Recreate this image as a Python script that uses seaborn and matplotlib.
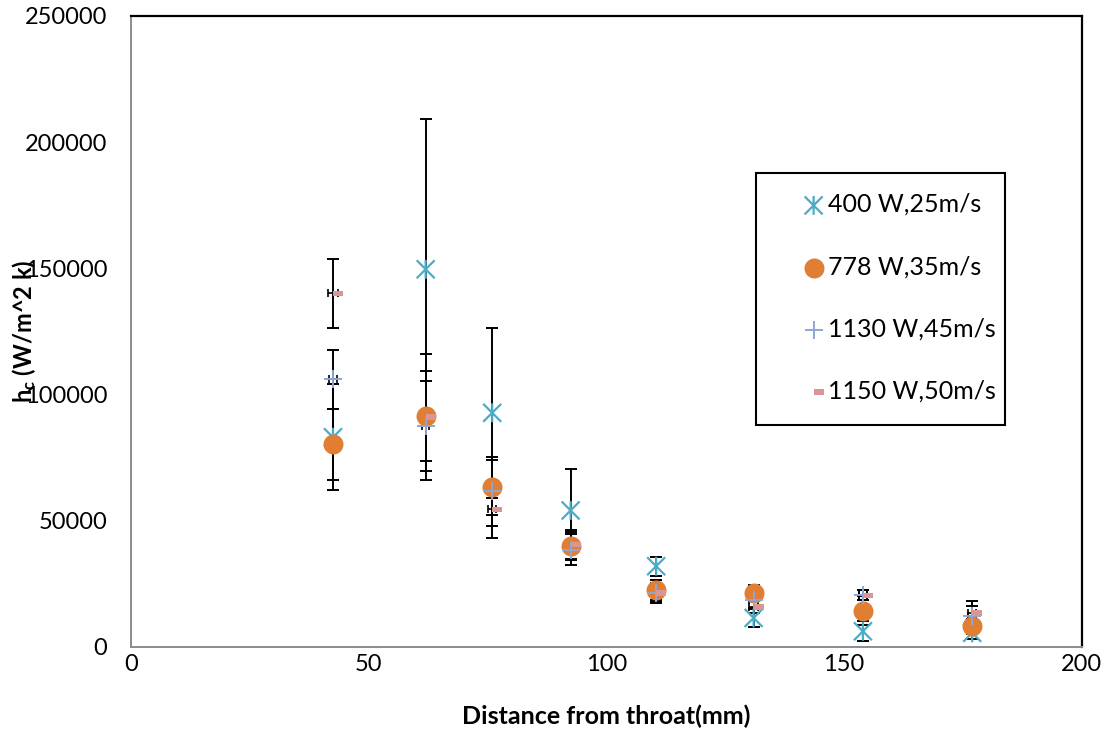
import numpy as np
import pandas as pd
import matplotlib
matplotlib.use("Agg")
import matplotlib.pyplot as plt
import seaborn as sns
from matplotlib.path import Path
from matplotlib.markers import MarkerStyle
from matplotlib.patches import Rectangle

# ---------------- data ----------------
distance_mm = [42.5, 62, 76, 92.5, 110.5, 131, 154, 177]
series_labels = ["400 W,25m/s", "778 W,35m/s", "1130 W,45m/s", "1150 W,50m/s"]

hc_400 = [83000, 149600, 92700, 54000, 31900, 11400, 6100, 5500]
err_400 = [21000, 59500, 33800, 16600, 3700, 3700, 4000, 2500]

hc_778 = [80200, 91400, 63200, 39800, 22600, 21300, 14300, 8100]
err_778 = [14000, 17900, 10900, 5500, 4000, 3000, 5600, 3000]

hc_1130 = [106000, 87400, 61600, 38500, 21300, 18400, 20600, 12000]
err_1130 = [11600, 17900, 13600, 6300, 3500, 3000, 2000, 6000]
xerr_1130 = [0.9, 0.8, 0.9, 0.9, 0.9, 0.9, 0.9, 0.9]

hc_1150 = [140000, 91000, 54400, 40500, 21300, 15700, 20400, 13400]
err_1150 = [13700, 25000, 11300, 5700, 4000, 2500, 2000, 2600]
xerr_1150 = [1.1, 0.9, 0.9, 0.9, 0.9, 0.9, 0.9, 0.9]

x_ticks = [0, 50, 100, 150, 200]
y_ticks = [0, 50000, 100000, 150000, 200000, 250000]

# long-form table built from the arrays
frames = []
for lab, ys, es in zip(series_labels,
                       [hc_400, hc_778, hc_1130, hc_1150],
                       [err_400, err_778, err_1130, err_1150]):
    frames.append(pd.DataFrame({"x": distance_mm, "y": ys, "err": es, "series": lab}))
df = pd.concat(frames, ignore_index=True)

# ---------------- style ----------------
sns.set_theme(style="white")
plt.rcParams["font.family"] = ["Lato", "DejaVu Sans"]
plt.rcParams["mathtext.fontset"] = "custom"
plt.rcParams["mathtext.rm"] = "Lato"
plt.rcParams["mathtext.bf"] = "Lato:bold"
plt.rcParams["mathtext.it"] = "Lato:italic"

colors = {
    "400 W,25m/s": "#4BACC6",
    "778 W,35m/s": "#E07F33",
    "1130 W,45m/s": "#8EA6D6",
    "1150 W,50m/s": "#D99694",
}

# custom markers
star_path = Path([(-1, -1), (1, 1), (-1, 1), (1, -1), (0, -1.05), (0, 1.05)],
                 [Path.MOVETO, Path.LINETO] * 3)
dash_path = Path([(0, -2.65), (10, -2.65), (10, 2.65), (0, 2.65), (0, -2.65)],
                 [Path.MOVETO, Path.LINETO, Path.LINETO, Path.LINETO, Path.CLOSEPOLY])

fig, ax = plt.subplots(figsize=(11.12, 7.4), dpi=100)
fig.subplots_adjust(left=0.1178, right=0.9726, bottom=0.1261, top=0.9784)

# ---------------- error bars ----------------
for lab in series_labels:
    d = df[df["series"] == lab]
    ax.errorbar(d["x"], d["y"], yerr=d["err"], fmt="none", ecolor="black",
                elinewidth=1.4, capsize=4.4, capthick=1.4, zorder=2)
for ys, xe in [(hc_1130, xerr_1130), (hc_1150, xerr_1150)]:
    ax.errorbar(distance_mm, ys, xerr=xe, fmt="none", ecolor="black",
                elinewidth=1.2, capsize=3.0, capthick=1.2, zorder=2)

# ---------------- markers ----------------
d = df[df["series"] == series_labels[0]]
sns.scatterplot(x=d["x"], y=d["y"], ax=ax, marker=MarkerStyle(star_path), s=185,
                color=colors[series_labels[0]], facecolor="none",
                edgecolor=colors[series_labels[0]], linewidth=1.6,
                label=series_labels[0], zorder=3, legend=False)
d = df[df["series"] == series_labels[1]]
sns.scatterplot(x=d["x"], y=d["y"], ax=ax, marker="o", s=207,
                color=colors[series_labels[1]], edgecolor=colors[series_labels[1]],
                linewidth=0, label=series_labels[1], zorder=4, legend=False)
d = df[df["series"] == series_labels[2]]
sns.scatterplot(x=d["x"], y=d["y"], ax=ax, marker="+", s=170,
                color=colors[series_labels[2]], linewidth=1.4,
                label=series_labels[2], zorder=5, legend=False)
d = df[df["series"] == series_labels[3]]
sns.scatterplot(x=d["x"], y=d["y"], ax=ax, marker=MarkerStyle(dash_path), s=207,
                color=colors[series_labels[3]], edgecolor="none", linewidth=0,
                label=series_labels[3], zorder=6, legend=False)

# ---------------- axes ----------------
ax.set_xlim(0, 200)
ax.set_ylim(0, 250000)
ax.set_xticks(x_ticks)
ax.set_yticks(y_ticks)
ax.set_xticklabels([str(v) for v in x_ticks])
ax.set_yticklabels([str(v) for v in y_ticks])
ax.tick_params(axis="both", length=0, labelsize=17, colors="black")
ax.tick_params(axis="y", pad=17)
ax.tick_params(axis="x", pad=5)
ax.grid(False)

for s in ["left", "bottom"]:
    ax.spines[s].set_color("#8C8C8C")
    ax.spines[s].set_linewidth(1.4)
for s in ["top", "right"]:
    ax.spines[s].set_color("black")
    ax.spines[s].set_linewidth(1.6)

ax.set_xlabel("Distance from throat(mm)", fontsize=18, fontweight="bold", color="black")
ax.xaxis.set_label_coords(0.5, -0.092)
ax.set_ylabel(r"$\mathbf{h_c}$ (W/m^2 k)", fontsize=17, fontweight="bold", color="black")
ax.yaxis.set_label_coords(-0.098, 0.5)

# ---------------- legend ----------------
h, l = ax.get_legend_handles_labels()
leg = ax.legend(h, l, loc="upper left", bbox_to_anchor=(0.7063, 0.7194),
                borderaxespad=0, borderpad=0, frameon=False, fontsize=18,
                handlelength=0.9, handletextpad=0.12, labelspacing=1.57,
                scatterpoints=1)
for t in leg.get_texts():
    t.set_color("black")
ax.add_patch(Rectangle((0.6579, 0.3515), 0.2611, 0.3996, transform=ax.transAxes,
                       fill=False, edgecolor="black", linewidth=1.5, zorder=7,
                       clip_on=False))

fig.savefig("out.png", dpi=100, facecolor="white")
